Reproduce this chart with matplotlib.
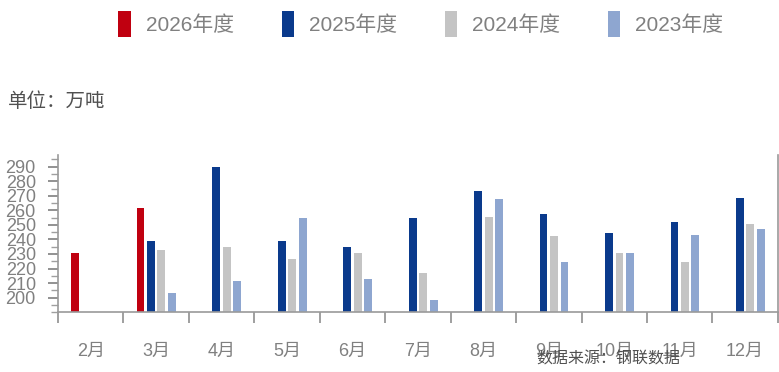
import numpy as np
import matplotlib
matplotlib.use("Agg")
import matplotlib.pyplot as plt
from matplotlib import font_manager
from matplotlib.patches import Patch
from matplotlib.ticker import MultipleLocator

available = {f.name for f in font_manager.fontManager.ttflist}
narrow = "Liberation Sans Narrow" if "Liberation Sans Narrow" in available else "Liberation Sans"
plt.rcParams["font.family"] = [narrow, "Noto Sans CJK SC", "DejaVu Sans"]

months = ["2月", "3月", "4月", "5月", "6月", "7月", "8月", "9月", "10月", "11月", "12月"]
series_names = ["2026年度", "2025年度", "2024年度", "2023年度"]
nan = np.nan
v2026 = [230.7, 261.6, nan, nan, nan, nan, nan, nan, nan, nan, nan]
v2025 = [nan, 239.1, 289.8, 239.1, 234.8, 254.7, 273.5, 257.5, 244.4, 251.7, 268.2]
v2024 = [nan, 233.0, 234.5, 226.6, 230.7, 217.0, 255.4, 242.6, 230.7, 224.3, 250.8]
v2023 = [nan, 203.2, 211.2, 254.7, 212.8, 198.0, 267.8, 224.3, 230.7, 242.8, 247.2]
yticks = list(range(200, 300, 10))

colors = ["#C00010", "#0A3A8C", "#C4C4C4", "#8EA6D0"]
offsets = [-0.24, -0.08, 0.08, 0.24]
width = 0.12

fig = plt.figure(figsize=(7.79, 3.72), dpi=100)
ax = fig.add_axes([0.0745, 0.161, 0.924, 0.422])

x = np.arange(len(months))
base = 190.0
for vals, c, off in zip([v2026, v2025, v2024, v2023], colors, offsets):
    vals = np.array(vals, dtype=float)
    ax.bar(x + off, vals - base, bottom=base, width=width, color=c, linewidth=0)

ax.set_xlim(-0.5, len(months) - 0.5)
ax.set_ylim(base, 298)
ax.set_yticks(yticks)
ax.set_yticklabels([str(t) for t in yticks], fontsize=13, color="#808080")
ax.yaxis.set_minor_locator(MultipleLocator(5))
ax.tick_params(axis="y", which="major", direction="out", length=7, width=1.2, color="#7F7F7F", pad=9)
ax.tick_params(axis="y", which="minor", direction="out", length=5, width=1.0, color="#9F9F9F")

ax.set_xticks(x)
ax.set_xticklabels(months, fontsize=13, color="#808080")
ax.set_xticks(np.arange(-0.5, len(months) + 0.5, 1), minor=True)
ax.tick_params(axis="x", which="major", length=0, pad=22)
ax.tick_params(axis="x", which="minor", direction="out", length=8, width=1.2, color="#8F8F8F")

ax.spines["top"].set_visible(False)
for side in ["left", "bottom", "right"]:
    ax.spines[side].set_color("#9A9A9A")
    ax.spines[side].set_linewidth(1.2)

handles = [Patch(facecolor=c, edgecolor="none") for c in colors]
fig.legend(handles, series_names, loc="upper left", bbox_to_anchor=(0.128, 1.02),
           ncol=4, frameon=False, fontsize=15, handlelength=0.6, handleheight=1.5,
           handletextpad=0.7, columnspacing=2.3, labelcolor="#808080")

fig.text(0.010, 0.728, "单位：万吨", fontsize=14, color="#505050",
         family=["Noto Sans CJK SC", "DejaVu Sans"], va="center")
fig.text(0.688, 0.036, "数据来源：钢联数据", fontsize=11.5, color="#505050",
         family=["Noto Sans CJK SC", "DejaVu Sans"], va="center")

fig.savefig("out.png", dpi=100)
